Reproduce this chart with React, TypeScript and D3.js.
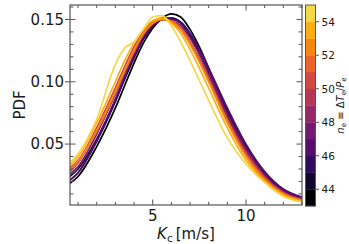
import { useEffect, useRef } from "react";
import * as d3 from "d3";

const WIDTH = 349;
const HEIGHT = 244;
const PLOT = { left: 70, right: 302, top: 5, bottom: 205 };
const CBAR = { left: 305.5, right: 315.5, top: 5, bottom: 206 };

const KC = [0.57, 1, 2, 3, 3.5, 4, 4.5, 5, 5.5, 6, 6.5, 7, 7.5, 8, 9, 10, 11, 12, 13];

// one curve per n_e band, from 43-44 (black) up to 54-55 (yellow)
const NE_BANDS = [43.5, 44.5, 45.5, 46.5, 47.5, 48.5, 49.5, 50.5, 51.5, 52.5, 53.5, 54.5];
const PDF_43 = [0.0185, 0.024, 0.048, 0.079, 0.097, 0.115, 0.131, 0.143, 0.151, 0.1545, 0.152, 0.142, 0.128, 0.111, 0.076, 0.046, 0.025, 0.012, 0.0065];
const PDF_44 = [0.024, 0.03, 0.054, 0.085, 0.103, 0.12, 0.135, 0.145, 0.15, 0.151, 0.147, 0.137, 0.123, 0.107, 0.073, 0.045, 0.025, 0.012, 0.006];
const PDF_45 = [0.021, 0.027, 0.052, 0.084, 0.102, 0.119, 0.134, 0.144, 0.15, 0.151, 0.148, 0.139, 0.126, 0.11, 0.077, 0.048, 0.027, 0.013, 0.007];
const PDF_46 = [0.021, 0.027, 0.053, 0.086, 0.104, 0.121, 0.135, 0.145, 0.15, 0.15, 0.147, 0.138, 0.126, 0.111, 0.079, 0.05, 0.028, 0.014, 0.0075];
const PDF_47 = [0.026, 0.032, 0.058, 0.09, 0.107, 0.123, 0.137, 0.146, 0.15, 0.149, 0.145, 0.135, 0.122, 0.107, 0.074, 0.046, 0.025, 0.012, 0.006];
const PDF_48 = [0.028, 0.035, 0.062, 0.094, 0.111, 0.127, 0.14, 0.148, 0.151, 0.149, 0.143, 0.132, 0.119, 0.104, 0.071, 0.044, 0.024, 0.011, 0.006];
const PDF_49 = [0.03, 0.036, 0.063, 0.095, 0.112, 0.128, 0.14, 0.148, 0.15, 0.148, 0.142, 0.131, 0.117, 0.102, 0.07, 0.043, 0.023, 0.011, 0.005];
const PDF_50 = [0.031, 0.037, 0.062, 0.093, 0.11, 0.126, 0.139, 0.147, 0.15, 0.148, 0.142, 0.131, 0.117, 0.101, 0.069, 0.042, 0.023, 0.011, 0.005];
const PDF_51 = [0.03, 0.036, 0.06, 0.091, 0.108, 0.124, 0.138, 0.147, 0.15, 0.149, 0.143, 0.132, 0.118, 0.102, 0.069, 0.041, 0.022, 0.01, 0.005];
const PDF_52 = [0.029, 0.036, 0.061, 0.093, 0.11, 0.126, 0.139, 0.147, 0.15, 0.148, 0.142, 0.13, 0.116, 0.1, 0.067, 0.04, 0.021, 0.01, 0.005];
const PDF_53 = [0.033, 0.04, 0.067, 0.1, 0.117, 0.131, 0.142, 0.149, 0.151, 0.147, 0.139, 0.126, 0.111, 0.095, 0.063, 0.037, 0.02, 0.009, 0.004];
const PDF_54 = [0.035, 0.042, 0.07, 0.114, 0.127, 0.132, 0.142, 0.152, 0.153, 0.145, 0.132, 0.117, 0.101, 0.085, 0.055, 0.034, 0.019, 0.008, 0.0035];
const CURVES = [PDF_43, PDF_44, PDF_45, PDF_46, PDF_47, PDF_48, PDF_49, PDF_50, PDF_51, PDF_52, PDF_53, PDF_54];

const Y_TICKS = [0.05, 0.1, 0.15];
const Y_MINOR = d3.range(1, 17).map((d) => d / 100);
const X_TICKS = [5, 10];
const X_MINOR = d3.range(1, 14);
const CBAR_TICKS = [44, 46, 48, 50, 52, 54];

const FONT = "DejaVu Sans, sans-serif";
const SPINE = "#555";

export default function App() {
  const svgRef = useRef<SVGSVGElement>(null);

  useEffect(() => {
    const svg = d3.select(svgRef.current);
    svg.selectAll("*").remove();

    const x = d3.scaleLinear().domain([0.57, 13.0]).range([PLOT.left, PLOT.right]);
    const y = d3.scaleLinear().domain([0.0011, 0.1616]).range([PLOT.bottom, PLOT.top]);
    const c = d3.scaleLinear().domain([43, 55]).range([CBAR.bottom, CBAR.top]);
    const color = (ne: number) => d3.interpolateInferno(((ne - 43.5) / 11) * 0.9);

    svg.append("rect").attr("width", WIDTH).attr("height", HEIGHT).attr("fill", "#fff");

    const clip = svg.append("clipPath").attr("id", "plot-clip");
    clip
      .append("rect")
      .attr("x", PLOT.left)
      .attr("y", PLOT.top)
      .attr("width", PLOT.right - PLOT.left)
      .attr("height", PLOT.bottom - PLOT.top);

    const line = d3
      .line<number>()
      .x((_, i) => x(KC[i]))
      .y((d) => y(d))
      .curve(d3.curveMonotoneX);

    const lines = svg.append("g").attr("clip-path", "url(#plot-clip)");
    CURVES.forEach((values, i) => {
      lines
        .append("path")
        .attr("d", line(values))
        .attr("fill", "none")
        .attr("stroke", color(NE_BANDS[i]))
        .attr("stroke-width", 1.7)
        .attr("stroke-linejoin", "round");
    });

    // ticks, all pointing into the axes
    const ticks = svg.append("g").attr("stroke", SPINE).attr("stroke-width", 1);
    X_MINOR.forEach((v) => {
      const len = X_TICKS.includes(v) ? 5.5 : 3;
      ticks.append("line").attr("x1", x(v)).attr("x2", x(v)).attr("y1", PLOT.bottom).attr("y2", PLOT.bottom - len);
      ticks.append("line").attr("x1", x(v)).attr("x2", x(v)).attr("y1", PLOT.top).attr("y2", PLOT.top + len);
    });
    Y_MINOR.forEach((v) => {
      const major = Y_TICKS.some((t) => Math.abs(t - v) < 1e-9);
      const len = major ? 5.5 : 3.5;
      ticks.append("line").attr("x1", major ? PLOT.left - 5 : PLOT.left).attr("x2", PLOT.left + len).attr("y1", y(v)).attr("y2", y(v));
      ticks.append("line").attr("x1", PLOT.right).attr("x2", PLOT.right - len).attr("y1", y(v)).attr("y2", y(v));
    });

    svg
      .append("rect")
      .attr("x", PLOT.left)
      .attr("y", PLOT.top)
      .attr("width", PLOT.right - PLOT.left)
      .attr("height", PLOT.bottom - PLOT.top)
      .attr("fill", "none")
      .attr("stroke", SPINE)
      .attr("stroke-width", 1.2);

    const labels = svg.append("g").attr("font-family", FONT).attr("fill", "#1a1a1a");
    Y_TICKS.forEach((v) => {
      labels
        .append("text")
        .attr("x", PLOT.left - 6)
        .attr("y", y(v))
        .attr("dy", "0.36em")
        .attr("text-anchor", "end")
        .attr("font-size", 15)
        .text(d3.format(".2f")(v));
    });
    X_TICKS.forEach((v) => {
      labels
        .append("text")
        .attr("x", x(v))
        .attr("y", 221)
        .attr("text-anchor", "middle")
        .attr("font-size", 15)
        .text(v);
    });

    labels
      .append("text")
      .attr("transform", `translate(25, ${(PLOT.top + PLOT.bottom) / 2}) rotate(-90)`)
      .attr("text-anchor", "middle")
      .attr("font-size", 15)
      .text("PDF");

    const xLabel = labels
      .append("text")
      .attr("x", (PLOT.left + PLOT.right) / 2)
      .attr("y", 239)
      .attr("text-anchor", "middle")
      .attr("font-size", 15);
    xLabel.append("tspan").attr("font-style", "italic").text("K");
    xLabel.append("tspan").attr("font-size", 10.5).attr("dy", 3).text("c");
    xLabel.append("tspan").attr("dy", -3).text("\u2009[m/s]");

    // discrete colour bar
    const cbar = svg.append("g");
    NE_BANDS.forEach((ne) => {
      cbar
        .append("rect")
        .attr("x", CBAR.left)
        .attr("y", c(ne + 0.5))
        .attr("width", CBAR.right - CBAR.left)
        .attr("height", c(ne - 0.5) - c(ne + 0.5) + 0.3)
        .attr("fill", color(ne));
    });
    cbar
      .append("rect")
      .attr("x", CBAR.left)
      .attr("y", CBAR.top)
      .attr("width", CBAR.right - CBAR.left)
      .attr("height", CBAR.bottom - CBAR.top)
      .attr("fill", "none")
      .attr("stroke", SPINE)
      .attr("stroke-width", 1);
    CBAR_TICKS.forEach((v) => {
      cbar
        .append("line")
        .attr("x1", CBAR.right)
        .attr("x2", CBAR.right + 3.5)
        .attr("y1", c(v))
        .attr("y2", c(v))
        .attr("stroke", SPINE);
      cbar
        .append("text")
        .attr("x", CBAR.right + 6)
        .attr("y", c(v))
        .attr("dy", "0.36em")
        .attr("font-family", FONT)
        .attr("font-size", 10.5)
        .attr("fill", "#1a1a1a")
        .text(v);
    });

    const cLabel = svg
      .append("text")
      .attr("transform", `translate(343.5, ${(CBAR.top + CBAR.bottom) / 2}) rotate(-90)`)
      .attr("text-anchor", "middle")
      .attr("font-family", FONT)
      .attr("font-size", 10)
      .attr("fill", "#1a1a1a");
    cLabel.append("tspan").attr("font-style", "italic").text("n");
    cLabel.append("tspan").attr("font-size", 7).attr("dy", 2).text("e");
    cLabel.append("tspan").attr("dy", -2).text(" \u2261 \u0394");
    cLabel.append("tspan").attr("font-style", "italic").text("T");
    cLabel.append("tspan").attr("font-size", 7).attr("dy", 2).text("e");
    cLabel.append("tspan").attr("dy", -2).text("/");
    cLabel.append("tspan").attr("font-style", "italic").text("P");
    cLabel.append("tspan").attr("font-size", 7).attr("dy", 2).text("e");
  }, []);

  return (
    <svg
      ref={svgRef}
      width={WIDTH}
      height={HEIGHT}
      style={{ position: "absolute", left: 0, top: 0 }}
      role="img"
      aria-label="PDF of K_c coloured by n_e"
    />
  );
}
